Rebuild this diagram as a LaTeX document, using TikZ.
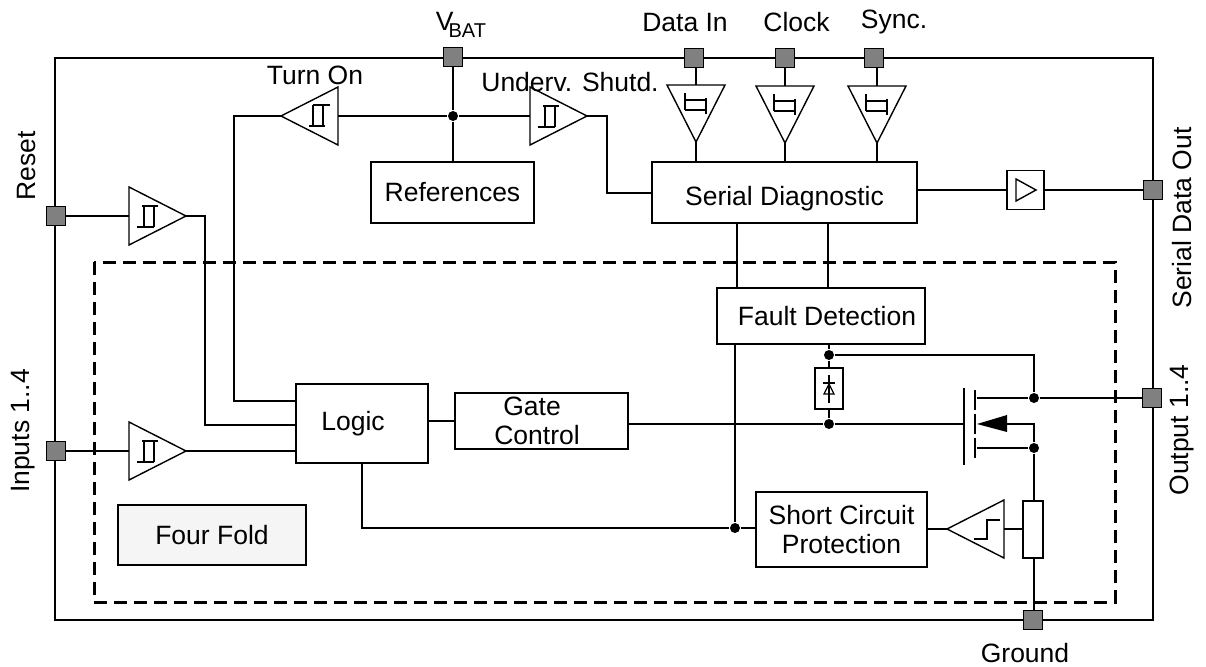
\documentclass[tikz,border=0pt]{standalone}
\usepackage{fontspec}
\setmainfont{Liberation Sans}
\newcommand{\amptri}{\draw (0,-29) -- (57,0) -- (0,29) -- cycle;
  \coordinate (-in) at (0,0); \coordinate (-out) at (57,0);}
\tikzset{
  wire/.style={line width=1.4pt},
  pin/.style={draw, line width=1.6pt, fill=black!50, minimum size=19pt, inner sep=0pt},
  block/.style={draw, line width=1.4pt, fill=white, inner sep=0pt},
  dot/.style={circle, fill=black, minimum size=10pt, inner sep=0pt},
  schmitt/.pic={\amptri
    \draw[line width=2.4pt] (8,11) -- (25,11) (15,11) -- (15,-10) (13,-10) -- (29,-10) (25,-10) -- (25,11);},
  stepamp/.pic={\amptri
    \draw[line width=2.4pt] (30,-10) -- (17,-10) -- (17,9) -- (4,9);},
}
\begin{document}
\begin{tikzpicture}[x=1pt, y=-1pt, line width=1.4pt, font=\fontsize{26.5}{29}\selectfont]
    \useasboundingbox (0,0) rectangle (1206,666);
    % package outline and chip area
    \draw[wire] (55,58) rectangle (1153,620);
    \draw[line width=3pt, dash pattern=on 13pt off 7pt] (94,262) rectangle (1115,602);
    % pins
    \node (vbat) [pin] at (453,57) {};
    \node (datain) [pin] at (694,58) {};
    \node (clock) [pin] at (785,58) {};
    \node (sync) [pin] at (874,58) {};
    \node (reset) [pin] at (56,216) {};
    \node (inputs) [pin] at (56,451) {};
    \node (sdo) [pin] at (1153,190) {};
    \node (output) [pin] at (1152,398) {};
    \node (ground) [pin] at (1033,620) {};
    % blocks
    \node (refs) [block, minimum width=163pt, minimum height=61pt] at (452.5,192.5) {References};
    \node (serial) [block, minimum width=265pt, minimum height=61pt] at (784.5,192.5) {\raisebox{-13pt}[0pt][0pt]{Serial Diagnostic}};
    \node (fault) [block, minimum width=208pt, minimum height=56pt] at (821,316) {\hspace*{12pt}Fault Detection};
    \node (logic) [block, minimum width=132pt, minimum height=79pt] at (362,423.5) {\hspace*{-18pt}Logic};
    \node (gate) [block, minimum width=173pt, minimum height=56pt, align=center] at (541.5,421) {\hspace*{-19pt}Gate\\\hspace*{-9pt}Control};
    \node (short) [block, minimum width=171pt, minimum height=75pt, align=center] at (841.5,529.5) {Short Circuit\\Protection};
    \node (four) [block, fill=black!4, minimum width=188pt, minimum height=60pt] at (212,535) {Four Fold};
    \node (shunt) [block, minimum width=20pt, minimum height=57pt] at (1033,529.5) {};
    \node (diode) [block, minimum width=28pt, minimum height=41pt] at (829,388.5) {};
    \node (buf) [block, minimum width=37pt, minimum height=39pt] at (1025.5,190) {};
    % amplifiers
    \pic (ton) [rotate=180] at (338,116) {schmitt};
    \pic (uv) at (530,116) {schmitt};
    \pic (trst) at (129,216) {schmitt};
    \pic (tin) at (129,451) {schmitt};
    \pic (tdata) [rotate=-90] at (696,85) {schmitt};
    \pic (tclock) [rotate=-90] at (785,86) {schmitt};
    \pic (tsync) [rotate=-90] at (877,86) {schmitt};
    \pic (comp) [rotate=180] at (1004,529) {stepamp};
    \draw (1016,179) -- (1036,190) -- (1016,201) -- cycle;
    % junctions
    \node (jv) [dot] at (453,116) {};
    \node (jf) [dot] at (829,355) {};
    \node (jg) [dot] at (829,424) {};
    \node (jd) [dot] at (1034,398) {};
    \node (js) [dot] at (1034,448) {};
    \node (jl) [dot] at (735,528) {};
    % wires
    \draw[wire] (vbat) -- (jv) -- (refs.north -| jv);
    \draw[wire] (ton-in) -- (jv) -- (uv-in);
    \draw[wire] (ton-out) -| (234,401) -- (logic.west |- 0,401);
    \draw[wire] (uv-out) -- (607,116) |- (serial.west |- 0,193);
    \draw[wire] (reset) -- (trst-in);
    \draw[wire] (trst-out) -| (205,425) -- (logic.west |- 0,425);
    \draw[wire] (inputs) -- (tin-in);
    \draw[wire] (tin-out) -- (logic.west |- tin-out);
    \draw[wire] (datain.south -| tdata-in) -- (tdata-in);
    \draw[wire] (clock) -- (tclock-in);
    \draw[wire] (sync.south -| tsync-in) -- (tsync-in);
    \draw[wire] (tdata-out) -- (serial.north -| tdata-out);
    \draw[wire] (tclock-out) -- (serial.north -| tclock-out);
    \draw[wire] (tsync-out) -- (serial.north -| tsync-out);
    \draw[wire] (serial.east |- buf) -- (buf);
    \draw[wire] (buf) -- (sdo);
    \draw[wire] (serial.south -| 737,0) -- (fault.north -| 737,0);
    \draw[wire] (serial.south -| 828,0) -- (fault.north -| 828,0);
    \draw[wire] (fault.south -| jl) -- (jl) -- (short.west |- jl);
    \draw[wire] (logic.south -| 362,0) |- (jl);
    \draw[wire] (logic.east |- 0,421) -- (gate.west |- 0,421);
    \draw[wire] (gate.east |- jg) -- (jg);
    \draw[wire] (fault.south -| jf) -- (jf) -- (diode);
    \draw[wire] (diode) -- (jg);
    \draw[wire] (jf) -| (jd);
    \draw[wire] (short.east |- comp-out) -- (comp-out);
    \draw[wire] (comp-in) -- (shunt.west |- comp-in);
    \draw[wire] (js) -- (shunt.north -| js);
    \draw[wire] (shunt.south -| js) -- (ground.north -| js);
    % power transistor
    \coordinate (gatebar) at (964,424);
    \coordinate (drain) at (977,398);
    \coordinate (bulk) at (977,424);
    \coordinate (source) at (977,448);
    \draw[wire] (jg) -- (gatebar);
    \draw[wire] (964,388) -- (964,465);
    \draw[line width=2pt] (975,390) -- (975,410) (975,414) -- (975,434) (975,438) -- (975,458);
    \draw[wire] (drain) -- (jd) -- (output);
    \draw[wire] (source) -- (js) -- (1034,424) -- (1007,424);
    \fill (bulk) -- (1007,415) -- (1007,432) -- cycle;
    % zener symbol
    \draw[line width=1.2pt] (823,383) -- (835,383) (829,375) -- (829,403);
    \draw[line width=1.2pt] (824,394) -- (834,394) -- (829,384) -- cycle;
    % labels
    \node (lvbat) at (461,25) {V\kern-5pt\raisebox{-7pt}{\fontsize{20}{22}\selectfont BAT}};
    \node (lton) at (315,75) {Turn On};
    \node (luv) at (570,82) {Underv. Shutd.};
    \node (ldata) at (685,23) {Data In};
    \node (lclock) at (796.5,22) {Clock};
    \node (lsync) at (894,22) {Sync.};
    \node (lreset) [rotate=90] at (27,166) {Reset};
    \node (linputs) [rotate=90] at (23,431) {Inputs 1..4};
    \node (lsdo) [rotate=90] at (1182,218) {Serial Data Out};
    \node (lout) [rotate=90] at (1182,430) {Output 1..4};
    \node (lgnd) at (1025,653) {Ground};
\end{tikzpicture}
\end{document}
